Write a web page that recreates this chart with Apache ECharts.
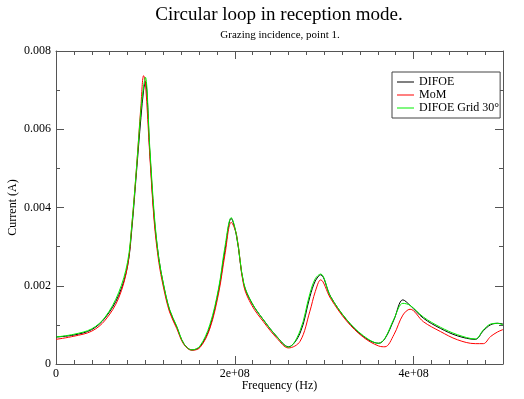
<!DOCTYPE html>
<html><head><meta charset="utf-8">
<script src="https://cdn.jsdelivr.net/npm/echarts@6/dist/echarts.min.js"></script>
<style>html,body{margin:0;padding:0;background:#fff}#c{width:524px;height:399px}</style>
</head><body><div id="c"></div>
<script>
// Frequency samples (MHz)
var freqMHz = [0,20,40,55,70,80,85,90,95,98,100,105,110,115,120,127,135,143,152,161,172,182,189,196,202,210,219,232,247,260,273,284,290,296,307,325,344,361,368,378,388,396,411,430,449,469,478,486,494,500];
// Current (A)
var difoe = [0.00069,0.00074,0.00088,0.00118,0.00175,0.0025,0.0035,0.0049,0.0063,0.0070,0.00722,0.0054,0.0037,0.0027,0.00205,0.00138,0.00095,0.00052,0.00036,0.00044,0.00094,0.0019,0.0029,0.00372,0.00326,0.00205,0.00156,0.00113,0.0007,0.00044,0.00079,0.00172,0.00212,0.00228,0.00173,0.00113,0.0007,0.00053,0.00065,0.00113,0.00164,0.0015,0.00117,0.00091,0.00072,0.00063,0.00085,0.00100,0.00104,0.00102];
var mom = [0.00063,0.00071,0.00084,0.00112,0.00168,0.0025,0.0036,0.005,0.0066,0.00737,0.0072,0.0053,0.0036,0.0026,0.00198,0.00133,0.00091,0.0005,0.00035,0.00042,0.0009,0.00182,0.0028,0.00362,0.0033,0.002,0.0015,0.00108,0.00066,0.00041,0.00058,0.00135,0.00185,0.00215,0.00168,0.0011,0.00068,0.00046,0.00044,0.00075,0.00125,0.0014,0.00108,0.00083,0.00062,0.00052,0.00052,0.0007,0.00082,0.00088];
var difoeGrid = [0.00069,0.00076,0.0009,0.0012,0.00182,0.0026,0.0036,0.005,0.0065,0.0071,0.00733,0.0055,0.0038,0.0027,0.00207,0.0014,0.00097,0.00052,0.00036,0.00046,0.001,0.00195,0.003,0.00374,0.00328,0.00207,0.00157,0.00113,0.0007,0.00043,0.00085,0.0018,0.00218,0.0023,0.00173,0.00114,0.00072,0.00053,0.00066,0.00115,0.00155,0.0015,0.0012,0.00094,0.00075,0.00064,0.00087,0.00102,0.00104,0.001];
var seriesNames = ['DIFOE','MoM','DIFOE Grid 30°'];
var xTickLabels = {0:'0',200000000:'2e+08',400000000:'4e+08'};
var yTickLabels = {0:'0',0.002:'0.002',0.004:'0.004',0.006:'0.006',0.008:'0.008'};

function pairs(v){ return freqMHz.map(function(f,i){ return [f*1e6, v[i]]; }); }
var FONT = 'Liberation Serif';
var AX = '#555';
var chart = echarts.init(document.getElementById('c'), null, {renderer:'canvas'});
function xAx(pos, interval, len, labels, line){
  return {type:'value', position:pos, offset:0, min:0, max:5e8, interval:interval,
    axisLine:{show:line, onZero:false, lineStyle:{color:AX, width:1}},
    axisTick:{show:true, inside:true, length:len, lineStyle:{color:AX}},
    axisLabel:{show:labels, margin:4, fontFamily:FONT, fontSize:12, color:'#000', showMaxLabel:false, hideOverlap:false,
      formatter:function(v){ var k = Math.round(v); return xTickLabels[k] !== undefined ? xTickLabels[k] : ''; }},
    splitLine:{show:false}};
}
function yAx(pos, labels){
  return {type:'value', position:pos, offset:0, min:0, max:0.008, interval:0.002,
    axisLine:{show:true, onZero:false, lineStyle:{color:AX, width:1}},
    axisTick:{show:true, inside:true, length:8, lineStyle:{color:AX}},
    minorTick:{show:true, splitNumber:2, length:4, lineStyle:{color:AX}},
    axisLabel:{show:labels, margin:5, fontFamily:FONT, fontSize:12, color:'#000',
      formatter:function(v){ var k = +v.toFixed(3); return yTickLabels[k] !== undefined ? yTickLabels[k] : ''; }},
    splitLine:{show:false}};
}
var xb = xAx('bottom', 2e8, 8, true, true);
xb.name = 'Frequency (Hz)'; xb.nameLocation = 'middle'; xb.nameGap = 16; xb.nameMoveOverlap = false;
xb.nameTextStyle = {fontFamily:FONT, fontSize:12, color:'#000'};
var yl = yAx('left', true);
yl.name = 'Current (A)'; yl.nameLocation = 'middle'; yl.nameGap = 37; yl.nameMoveOverlap = false;
yl.nameTextStyle = {fontFamily:FONT, fontSize:12, color:'#000'};
var colors = ['#000000','#ff0000','#00ee00'];
var datas = [difoe, mom, difoeGrid];
var series = seriesNames.map(function(n,i){
  return {name:n, type:'line', xAxisIndex:0, yAxisIndex:0, data:pairs(datas[i]), symbol:'none', smooth:0.35,
    lineStyle:{color:colors[i], width:1}, itemStyle:{color:colors[i]}, animation:false, z: i===1?3:(i===0?2:4)};
});
chart.setOption({
  animation:false,
  graphic:[
    {type:'text', x:279, y:15, style:{text:'Circular loop in reception mode.', font:'19px "Liberation Serif"', fill:'#000', textAlign:'center', textVerticalAlign:'middle'}},
    {type:'text', x:280, y:35, style:{text:'Grazing incidence, point 1.', font:'11px "Liberation Serif"', fill:'#000', textAlign:'center', textVerticalAlign:'middle'}}
  ],
  grid:{left:56, right:21, top:51, bottom:35, containLabel:false, outerBoundsMode:'none'},
  legend:{data:seriesNames, orient:'vertical', left:392, top:72, padding:[4,1,4,5], itemGap:1, itemWidth:17, itemHeight:1,
    icon:'rect', borderColor:'#444', borderWidth:1, backgroundColor:'#fff',
    textStyle:{fontFamily:FONT, fontSize:12, color:'#000'}},
  xAxis:[xb, xAx('bottom', 2e7, 4, false, false), xAx('top', 2e8, 8, false, true), xAx('top', 2e7, 4, false, false)],
  yAxis:[yl, yAx('right', false)],
  series:series
});
</script></body></html>
